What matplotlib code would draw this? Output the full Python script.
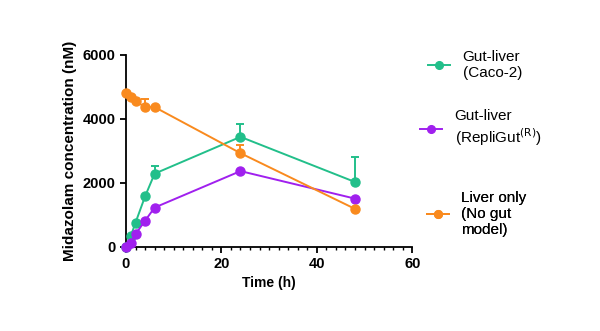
import matplotlib
matplotlib.use("Agg")
import matplotlib.pyplot as plt
import numpy as np
from matplotlib.ticker import MultipleLocator

plt.rcParams['font.family'] = ['Liberation Sans', 'DejaVu Sans']

time_h = [0, 1, 2, 4, 6, 24, 48]
caco2 = [0, 340, 760, 1580, 2290, 3440, 2030]
caco2_err = [0, 0, 0, 0, 230, 400, 780]
repligut = [0, 120, 400, 820, 1230, 2370, 1510]
repligut_err = [0, 0, 0, 0, 0, 0, 0]
liver_only = [4820, 4700, 4560, 4370, 4370, 2930, 1190]
liver_err = [0, 0, 0, 260, 0, 260, 0]

labels = ["Gut-liver\n(Caco-2)", "Gut-liver\n(RepliGut$^{\\mathrm{(R)}}$)", "Liver only\n(No gut\nmodel)"]
colors = ["#22BF8A", "#A020EE", "#F98A1E"]

fig = plt.figure(figsize=(6, 3.31), dpi=100)
ax = fig.add_axes([0.21, 0.254, 0.477, 0.58])

series = [(caco2, caco2_err), (repligut, repligut_err), (liver_only, liver_err)]
handles = []
for (vals, err), col, lab in zip(series, colors, labels):
    yerr = [np.zeros(len(err)), np.array(err)]
    h = ax.errorbar(time_h, vals, yerr=yerr, color=col, marker='o', markersize=6.5,
                    linewidth=1.4, capsize=3, elinewidth=1.4, capthick=1.4, label=lab,
                    clip_on=False, zorder=3)
    handles.append(h[0])

ax.set_xlim(0, 60)
ax.set_ylim(0, 6000)
ax.xaxis.set_major_locator(MultipleLocator(20))
ax.xaxis.set_minor_locator(MultipleLocator(2))
ax.yaxis.set_major_locator(MultipleLocator(2000))
for s in ['top', 'right']:
    ax.spines[s].set_visible(False)
for s in ['left', 'bottom']:
    ax.spines[s].set_linewidth(1.3)
ax.tick_params(axis='both', which='major', length=4, width=1.3, labelsize=10.5)
ax.tick_params(axis='x', which='minor', length=2.5, width=1.0)
for lbl in ax.get_xticklabels() + ax.get_yticklabels():
    lbl.set_fontweight('bold')
ax.set_xlabel("Time (h)", fontsize=10, fontweight='bold', labelpad=3)
ax.set_ylabel("Midazolam concentration (nM)", fontsize=11, fontweight='bold', labelpad=4)

# legend entries placed individually (positions in axes fraction)
leg_pos = [(1.056, 0.948), (1.028, 0.615), (1.052, 0.172)]
for h, lab, (lx, ly) in zip(handles, labels, leg_pos):
    leg = ax.legend(handles=[h], labels=[lab], loc='center left', bbox_to_anchor=(lx, ly),
                    frameon=False, fontsize=11, handlelength=1.45, handletextpad=0.8,
                    borderaxespad=0, borderpad=0, markerscale=0.85)
    ax.add_artist(leg)

fig.savefig("out.png", dpi=100)
